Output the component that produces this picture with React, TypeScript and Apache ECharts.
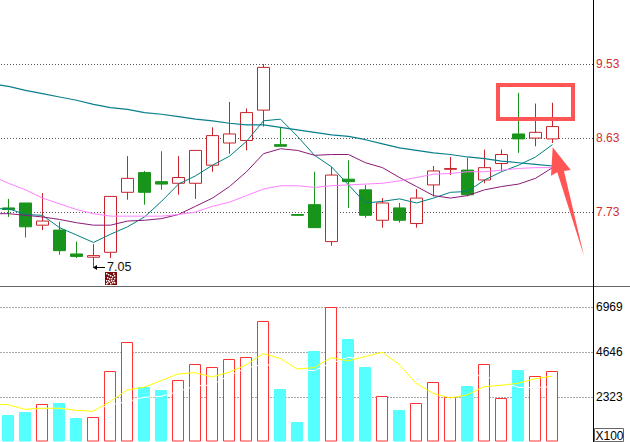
import React, { useEffect, useRef } from "react";
import * as echarts from "echarts";

const priceTicks = [7.73, 8.63, 9.53];
const volumeTicks = [2323, 4646, 6969];

// open, close, low, high
const candles = [
  [7.78, 7.76, 7.67, 7.89], [7.84, 7.55, 7.42, 7.84], [7.57, 7.62, 7.51, 7.96], [7.51, 7.26, 7.21, 7.61],
  [7.22, 7.19, 7.17, 7.37], [7.18, 7.2, 7.05, 7.34], [7.24, 7.92, 7.17, 7.92], [7.97, 8.14, 7.88, 8.41],
  [8.21, 7.97, 7.82, 8.23], [8.1, 8.07, 8.0, 8.47], [8.08, 8.15, 7.94, 8.41], [8.08, 8.48, 7.89, 8.48],
  [8.3, 8.66, 8.22, 8.76], [8.57, 8.68, 8.44, 9.07], [8.6, 8.94, 8.48, 8.99], [8.97, 9.49, 8.77, 9.53],
  [8.55, 8.53, 8.53, 8.76], [7.7, 7.69, 7.69, 7.7], [7.82, 7.54, 7.54, 8.22], [7.37, 8.18, 7.32, 8.28],
  [8.13, 8.1, 7.78, 8.36], [8.0, 7.69, 7.66, 8.06], [7.63, 7.84, 7.54, 7.9], [7.78, 7.63, 7.6, 7.84],
  [7.59, 7.9, 7.54, 8.01], [8.06, 8.23, 7.92, 8.29], [8.25, 8.26, 8.18, 8.4], [8.24, 7.94, 7.92, 8.39],
  [8.12, 8.27, 8.08, 8.49], [8.32, 8.43, 8.23, 8.49], [8.68, 8.62, 8.45, 9.18], [8.63, 8.7, 8.53, 9.05],
  [8.62, 8.77, 8.57, 9.06],
];

// Moving averages start one session before the first visible candle.
const maFast = [7.77, 7.77, 7.7, 7.69, 7.54, 7.45, 7.36, 7.46, 7.55, 7.67, 7.86, 8.07, 8.17, 8.3, 8.41, 8.59, 8.84, 8.86, 8.65, 8.42, 8.28, 8.06, 7.84, 7.86, 7.89, 7.84, 7.9, 7.97, 7.98, 8.12, 8.22, 8.3, 8.4, 8.55];
const maMid = [7.71, 7.71, 7.69, 7.67, 7.64, 7.6, 7.57, 7.57, 7.62, 7.63, 7.65, 7.7, 7.8, 7.9, 8.04, 8.22, 8.44, 8.5, 8.48, 8.42, 8.43, 8.43, 8.33, 8.27, 8.15, 8.04, 7.93, 7.9, 7.93, 8.0, 8.04, 8.07, 8.14, 8.27];
const maSlow = [8.17, 8.08, 8.0, 7.9, 7.83, 7.76, 7.71, 7.68, 7.68, 7.68, 7.68, 7.7, 7.73, 7.8, 7.85, 7.93, 8.01, 8.05, 8.05, 8.03, 8.05, 8.06, 8.07, 8.08, 8.11, 8.15, 8.19, 8.2, 8.22, 8.22, 8.24, 8.26, 8.27, 8.27];
const maLong = [9.29, 9.26, 9.21, 9.17, 9.13, 9.09, 9.04, 9.0, 8.98, 8.94, 8.92, 8.89, 8.86, 8.84, 8.81, 8.79, 8.79, 8.76, 8.73, 8.7, 8.67, 8.65, 8.61, 8.56, 8.51, 8.48, 8.45, 8.43, 8.4, 8.38, 8.35, 8.33, 8.31, 8.29];

const volumes = [1409, 1563.5, 1976.3, 2028, 1253.9, 1305.5, 3679.3, 5175.8, 2853.6, 2698.8, 3214.8, 4040.5, 3885.7, 4298.5, 4401.7, 6259.5, 2750.4, 1047.5, 4711.4, 6981.9, 5330.6, 3885.7, 2389.2, 1666.7, 2028, 3111.6, 2337.6, 2905.2, 4040.5, 2286, 3730.9, 3421.3, 3679.3];
const volFast = [1977, 1941, 1703, 1755, 1755, 1652, 1600, 2096, 2700, 2839, 3180, 3526, 3593, 3371, 3613, 3990, 4574, 4336, 3784, 3851, 4367, 4197, 4419, 4646, 4026, 3046, 2529, 2287, 2442, 2870, 2942, 3046, 3283, 3407];
const volSlow = [1700, 1700, 1700, 1755, 1755, 1700, 1650, 1925, 2096, 2323, 2375, 2612, 2906, 2958, 3438, 3820, 4026, 3902, 3732, 3696, 4078, 4388, 4248, 3902, 3732, 3593, 3526, 3490, 3458, 3422, 3128, 2839, 2818, 2870];

const lowLabel = "7.05";
const unitLabel = "X100";

const categories = Array.from({ length: 36 }, (_, i) => String(i));

const RED = "#c8242c";
const GREEN = "#18941a";
const FONT = '"Liberation Sans", Arial, sans-serif';
const ANNOT = "#ff5555";

const dotted = { show: true, lineStyle: { color: "#555", type: [1, 2] as number[], width: 1 } };

const maLine = (name: string, data: number[], color: string, width: number, idx = 0) => ({
  name,
  type: "line",
  data,
  xAxisIndex: idx,
  yAxisIndex: idx,
  showSymbol: false,
  symbol: "none",
  lineStyle: { color, width },
  itemStyle: { color },
  z: 5,
});

export default function App() {
  const ref = useRef<HTMLDivElement>(null);
  useEffect(() => {
    document.body.style.margin = "0";
    const chart = echarts.init(ref.current!, undefined, { renderer: "svg" });
    const iconCells = [
      [1, 1], [3, 2], [5, 3], [8, 1], [9, 3], [7, 4], [2, 5], [4, 6], [6, 6], [9, 6], [1, 8], [3, 8], [6, 8], [8, 8],
      [4, 9], [2, 10], [7, 10], [9, 10], [5, 11], [1, 11],
    ];
    chart.setOption({
      animation: false,
      backgroundColor: "#ffffff",
      grid: [
        { left: -17, width: 612, top: 0, height: 286, outerBoundsMode: "none" },
        { left: -17.5, width: 612, top: 287, height: 154, outerBoundsMode: "none" },
      ],
      xAxis: [
        { type: "category", gridIndex: 0, data: categories, show: false },
        { type: "category", gridIndex: 1, data: categories, show: false },
      ],
      yAxis: [
        {
          type: "value",
          gridIndex: 0,
          position: "right",
          min: 6.83,
          max: 10.31,
          axisLine: { show: false },
          axisTick: { show: false, customValues: priceTicks },
          splitLine: dotted,
          axisLabel: {
            customValues: priceTicks,
            formatter: (v: number) => v.toFixed(2),
            color: "#d03030",
            fontFamily: FONT,
            fontSize: 12,
            margin: 1,
          },
        },
        {
          type: "value",
          gridIndex: 1,
          position: "right",
          min: 67,
          max: 8014,
          axisLine: { show: false },
          axisTick: { show: false, customValues: volumeTicks },
          splitLine: dotted,
          axisLabel: {
            customValues: volumeTicks,
            formatter: (v: number) => String(v),
            color: "#000",
            fontFamily: FONT,
            fontSize: 12,
            margin: 1.5,
          },
        },
      ],
      series: [
        {
          type: "candlestick",
          xAxisIndex: 0,
          yAxisIndex: 0,
          barWidth: 12,
          data: [["-", "-", "-", "-"], ...candles],
          itemStyle: {
            color: "#ffffff",
            color0: GREEN,
            borderColor: RED,
            borderColor0: GREEN,
            borderColorDoji: RED,
            borderWidth: 1,
          },
        },
        maLine("MA5", maFast, "#008080", 1),
        maLine("MA10", maMid, "#8b1a78", 1),
        maLine("MA20", maSlow, "#ff80ff", 1),
        maLine("MA60", maLong, "#0a7f8c", 1.2),
        {
          type: "bar",
          xAxisIndex: 1,
          yAxisIndex: 1,
          barWidth: 12,
          data: [
            null,
            ...volumes.map((v, i) => {
              const up = candles[i][1] > candles[i][0];
              return {
                value: v,
                itemStyle: {
                  color: up ? "#ffffff" : "#55ffff",
                  borderColor: up ? "#ff3333" : "#55ffff",
                  borderWidth: 1,
                },
              };
            }),
          ],
        },
        maLine("VOL10", volSlow, "#ffffff", 1, 1),
        maLine("VOL5", volFast, "#ffff00", 1, 1),
      ],
      graphic: [
        { type: "rect", z: 20, shape: { x: 593, y: 0, width: 2.5, height: 442 }, style: { fill: "#fff" } },
        { type: "line", z: 20, shape: { x1: 0, y1: 286.5, x2: 630, y2: 286.5 }, style: { stroke: "#666", lineWidth: 1 } },
        { type: "line", z: 21, shape: { x1: 593.5, y1: 0, x2: 593.5, y2: 442 }, style: { stroke: "#000", lineWidth: 1 } },
        { type: "rect", z: 21, shape: { x: 594.5, y: 428.5, width: 29, height: 13 }, style: { fill: "#fff", stroke: "#666", lineWidth: 1 } },
        { type: "text", z: 22, x: 595.5, y: 435.5, style: { text: unitLabel, fill: "#000", font: `12px ${FONT}`, verticalAlign: "middle" } },
        { type: "line", z: 20, shape: { x1: 95, y1: 267.5, x2: 105, y2: 267.5 }, style: { stroke: "#000", lineWidth: 1 } },
        { type: "polygon", z: 20, shape: { points: [[93, 267.5], [97, 265], [97, 270]] }, style: { fill: "#000" } },
        { type: "text", z: 20, x: 107, y: 267, style: { text: lowLabel, fill: "#111", font: `12.5px ${FONT}`, verticalAlign: "middle" } },
        { type: "rect", z: 20, shape: { x: 105, y: 272, width: 12, height: 13 }, style: { fill: "#7a0c0c" } },
        ...iconCells.map(([cx, cy]) => ({
          type: "rect",
          z: 21,
          shape: { x: 105 + cx, y: 272 + cy, width: 1.4, height: 1.4 },
          style: { fill: "#fff" },
        })),
        { type: "rect", z: 30, shape: { x: 498, y: 85, width: 75, height: 34 }, style: { fill: "transparent", stroke: ANNOT, lineWidth: 4 } },
        {
          type: "polygon",
          z: 30,
          shape: { points: [[552.7, 147.3], [570.7, 170], [564, 171], [584, 256], [557.3, 172.3], [551, 175.7]] },
          style: { fill: ANNOT },
        },
      ],
    });
    return () => chart.dispose();
  }, []);
  return <div ref={ref} style={{ width: 630, height: 442 }} />;
}
